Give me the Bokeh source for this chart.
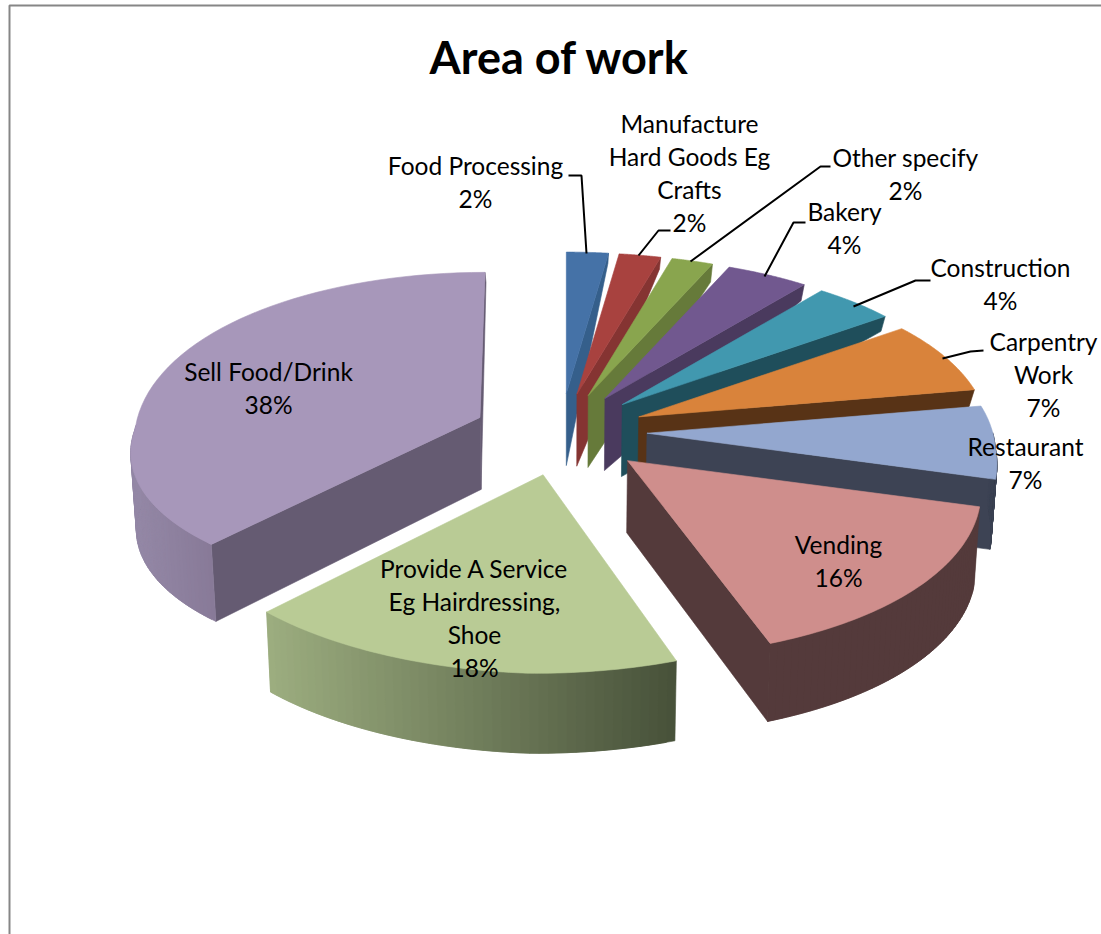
import numpy as np
from bokeh.plotting import figure
from bokeh.models import ColumnDataSource
from bokeh.core.properties import value
from bokeh.embed import file_html
from bokeh.resources import INLINE

# ---- data ----
categories = ["Food Processing", "Manufacture Hard Goods Eg Crafts", "Other specify", "Bakery",
              "Construction", "Carpentry Work", "Restaurant", "Vending",
              "Provide A Service Eg Hairdressing, Shoe", "Sell Food/Drink"]
shares = [2, 2, 2, 4, 4, 7, 7, 16, 18, 38]
label_lines = [["Food Processing", "2%"],
               ["Manufacture", "Hard Goods Eg", "Crafts", "2%"],
               ["Other specify", "2%"],
               ["Bakery", "4%"],
               ["Construction", "4%"],
               ["Carpentry", "Work", "7%"],
               ["Restaurant", "7%"],
               ["Vending", "16%"],
               ["Provide A Service", "Eg Hairdressing,", "Shoe", "18%"],
               ["Sell Food/Drink", "38%"]]

# ---- styling / layout ----
top_cols = ["#4572a7", "#a8423f", "#89a54e", "#71588f", "#4198af", "#d9833b", "#93a7cf", "#cf8e8c", "#b9cb95", "#a797ba"]
wall_cols = ["#355f8b", "#853432", "#667a3a", "#4a3a5e", "#1f4e5b", "#583316", "#3d4354", "#543a3b", "#8f9e72", "#655b72"]
rim_left = {7: "#543a3b", 8: "#9dae80", 9: "#9488a6", 6: "#3d4354"}
rim_right = {7: "#543a3b", 8: "#48523a", 9: "#887a98", 6: "#3d4354"}
far_depth = [10, 12, 18, 16, 15, 17, 70, 78, 80, 77]
label_xy = [(475, 165), (689, 123), (905, 157), (844, 211), (1000, 267),
            (1043, 341), (1025, 446), (838, 544), (474, 568), (268, 371)]
LINE = 33
CX, CY, EX, EY = 563.5, 434, 85, 41
R = 350
APEX_DEPTH = 72
NUDGE = [-3, -3, -2, 0, 0, -1, -2, -2, -5, -5]
NUDGE_Y = [0, 0, 0, 0, 0, 1, 0, 0, 0, -2]
RSCALE = [1, 1, 1, 1, 1, 1, 0.995, 1.005, 1.03, 0.986]
LEAN = [0, 0, 0, 0, 0, 0, 0, 0, 0, 5]
FRONT_LEAN = [0, 0, 0, 0, 0, 0, 0, 0, 14, 19]
TOP_SCALE = [1, 1, 1, 1, 1, 1, 1, 1, 1, 1.025]
SQUASH = [1, 1, 1, 1, 1, 1, 1, 1, 1, 0.88]
TILT = [0, 0, 0, 0, 0, 0, 0, 0, 1, 0]
leaders = [([568, 581, 586], [175, 175, 253]),
           ([670, 658, 638], [230, 230, 255]),
           ([830, 820, 690], [166, 166, 261]),
           ([805, 793, 764], [222, 222, 276]),
           ([930, 915, 853], [280, 280, 306]),
           ([983, 970, 942], [350, 351, 358])]


def rim(t, i):
    """offset of the rim from a slice's apex, for angle t (radians, clockwise from top)"""
    y, s = np.cos(t), np.sin(t)
    kx = 0.04 if y > 0 else 0.1
    dx = RSCALE[i] * R * s / (1 + kx * y) + LEAN[i] * max(y, 0) + FRONT_LEAN[i] * min(y, 0)
    dy = -(-14 + 169 * y - 13.5 * y * y)
    dy *= SQUASH[i] if y < 0 else TOP_SCALE[i]
    dy += TILT[i] * (2 + (13.3 if s < 0 else 3.3) * s)
    return dx, dy


def mix(a, b, f):
    ca = [int(a[i:i + 2], 16) for i in (1, 3, 5)]
    cb = [int(b[i:i + 2], 16) for i in (1, 3, 5)]
    return "#%02x%02x%02x" % tuple(int(round(u + (v - u) * f)) for u, v in zip(ca, cb))


def drop(x, y, d):
    return x - 0.013 * (x - CX), y + d


xs, ys, cols = [], [], []


def add(px, py, c):
    xs.append(list(px))
    ys.append(list(py))
    cols.append(c)


cum = 0.0
total = sum(shares)
for i, s in enumerate(shares):
    t0 = np.radians(360 * cum / total)
    t1 = np.radians(360 * (cum + s) / total)
    cum += s
    mid = (t0 + t1) / 2
    ax, ay = CX + EX * np.sin(mid) + NUDGE[i], CY - EY * np.cos(mid) + NUDGE_Y[i]
    bx, by = drop(ax, ay, APEX_DEPTH)
    d = far_depth[i]

    def P(t):
        dx, dy = rim(t, i)
        return ax + dx, ay + dy

    # radial walls
    faces = []
    if i <= 7 or i == 9:
        faces.append(t1)
    if i == 9:
        faces.append(t0)
    for f in faces:
        px, py = P(f)
        qx, qy = drop(px, py, d if i != 9 or f == t0 else 10)
        add([ax, px, qx, bx], [ay, py, qy, by], wall_cols[i])

    # outer wall, as shaded strips that overlap to hide seams
    lo, hi = max(t0, np.radians(85)), min(t1, np.radians(272))
    if hi > lo and i in rim_left:
        n = 48
        edges = np.linspace(lo, hi, n + 1)
        left_x, right_x = P(hi)[0], P(lo)[0]
        for k in range(n):
            ux, uy = P(edges[k])
            vx, vy = P(edges[min(k + 2, n)])
            u2x, u2y = drop(ux, uy, d)
            v2x, v2y = drop(vx, vy, d)
            f = np.clip((ux - left_x) / max(right_x - left_x, 1), 0, 1)
            add([ux, vx, v2x, u2x], [uy, vy, v2y, u2y], mix(rim_left[i], rim_right[i], f))

    # top face
    ts = np.linspace(t0, t1, 60)
    pts = [P(t) for t in ts]
    add([ax] + [q[0] for q in pts], [ay] + [q[1] for q in pts], top_cols[i])

p = figure(width=1101, height=934, x_range=(0, 1101), y_range=(934, 0),
           output_backend="svg", toolbar_location=None, min_border=0,
           margin=(0, 0, 0, 0), outline_line_color=None,
           background_fill_color="white", border_fill_color="white")
p.axis.visible = False
p.grid.visible = False

# chart frame
p.multi_line(xs=[[9, 9, 1101]], ys=[[934, 5, 5]], line_color="#868686", line_width=2)

p.patches("xs", "ys", source=ColumnDataSource(dict(xs=xs, ys=ys, c=cols)),
          fill_color="c", line_color="c", line_width=0.6)

p.multi_line(xs=[l[0] for l in leaders], ys=[l[1] for l in leaders], line_color="black", line_width=2)

tx, ty, tt = [], [], []
for (x0, y0), lines in zip(label_xy, label_lines):
    for j, line in enumerate(lines):
        tx.append(x0)
        ty.append(y0 + j * LINE)
        tt.append(line)
p.text(tx, ty, text=tt, text_font=value("Lato"), text_font_size="24.5px", text_color="black",
       text_align="center", text_baseline="middle")
p.text([559], [56], text=["Area of work"], text_font=value("Lato"), text_font_size="45px",
       text_font_style="bold", text_color="black", text_align="center", text_baseline="middle")

open("out.html", "w").write(file_html(p, INLINE))
